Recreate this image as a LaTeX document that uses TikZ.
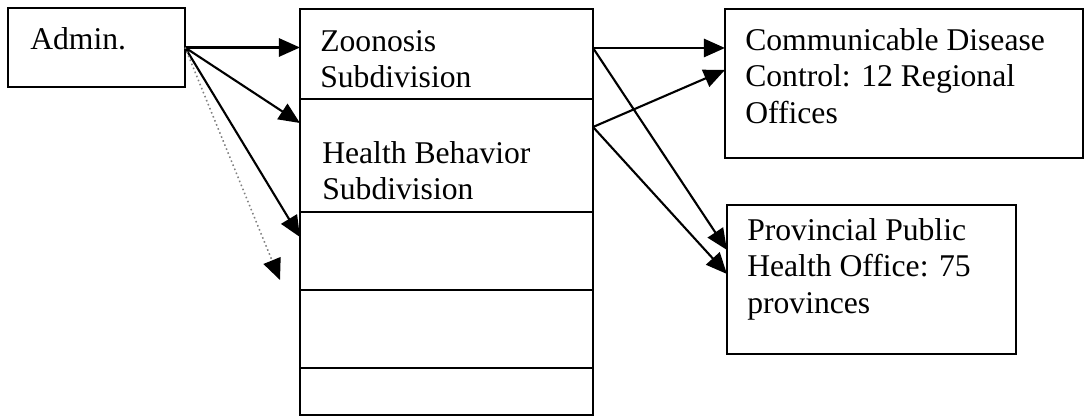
\documentclass[tikz,border=0pt]{standalone}
\usepackage{fontspec}
\setmainfont{Liberation Serif}
\usetikzlibrary{positioning,calc,arrows.meta}

\begin{document}
\begin{tikzpicture}[x=0.025cm, y=-0.025cm,
  box/.style={draw, line width=1.1pt, rectangle, outer sep=0pt, inner sep=0pt},
  cell/.style={box, minimum width=7.325cm},
  txt/.style={anchor=north west, inner sep=0pt, align=left, font=\fontsize{22.5}{26}\selectfont},
  arr/.style={line width=1.5pt, -{Triangle[length=15pt, width=13pt]}},
  dotarr/.style={dotted, line width=1.1pt, gray, -{Triangle[length=15pt, width=13pt, color=black]}}]
  \useasboundingbox (0,0) rectangle (1088,418);

  % Boxes
  \node[box, minimum width=4.425cm, minimum height=1.975cm] (admin) at (96.5,47.5) {};
  \node[cell, minimum height=2.25cm] (cell1) at (446.5,54) {};
  \node[cell, minimum height=2.825cm, below=0pt of cell1] (cell2) {};
  \node[cell, minimum height=1.95cm, below=0pt of cell2] (cell3) {};
  \node[cell, minimum height=1.95cm, below=0pt of cell3] (cell4) {};
  \node[cell, minimum height=1.175cm, below=0pt of cell4] (cell5) {};
  \node[box, minimum width=8.95cm, minimum height=3.725cm] (cdc) at (904,83.5) {};
  \node[box, minimum width=7.225cm, minimum height=3.725cm] (prov) at (871.5,279.5) {};

  % Texts
  \node[txt] (admin-t) at (30,27) {Admin.};
  \node[txt] (cell1-t) at (320,30) {Zoonosis\\Subdivision};
  \node[txt] (cell2-t) at (322,141) {Health Behavior\\Subdivision};
  \node[txt] (cdc-t) at (745,28) {Communicable Disease\\Control: 12 Regional\\Offices};
  \node[txt] (prov-t) at (747,218) {Provincial Public\\Health Office: 75\\provinces};

  % Arrow ends
  \coordinate (dotend) at (280,280);
  \coordinate (z-out) at ($(cell1.north east)+(0,39)$);
  \coordinate (h-out) at ($(cell2.north east)+(0,28)$);

  % Arrows from Admin
  \draw[arr] (admin.east) -- (cell1.west |- admin.east);
  \draw[arr] (admin.east) -- ($(cell2.north west)+(0,24)$);
  \draw[arr] (admin.east) -- ($(cell3.north west)+(0,25)$);
  \draw[dotarr] (admin.east) -- (dotend);

  % Arrows to the offices
  \draw[arr] (z-out) -- (cdc.west |- z-out);
  \draw[arr] (z-out) -- ($(prov.north west)+(0,45)$);
  \draw[arr] (h-out) -- ($(cdc.north west)+(0,61)$);
  \draw[arr] (h-out) -- ($(prov.north west)+(0,69)$);
\end{tikzpicture}
\end{document}
